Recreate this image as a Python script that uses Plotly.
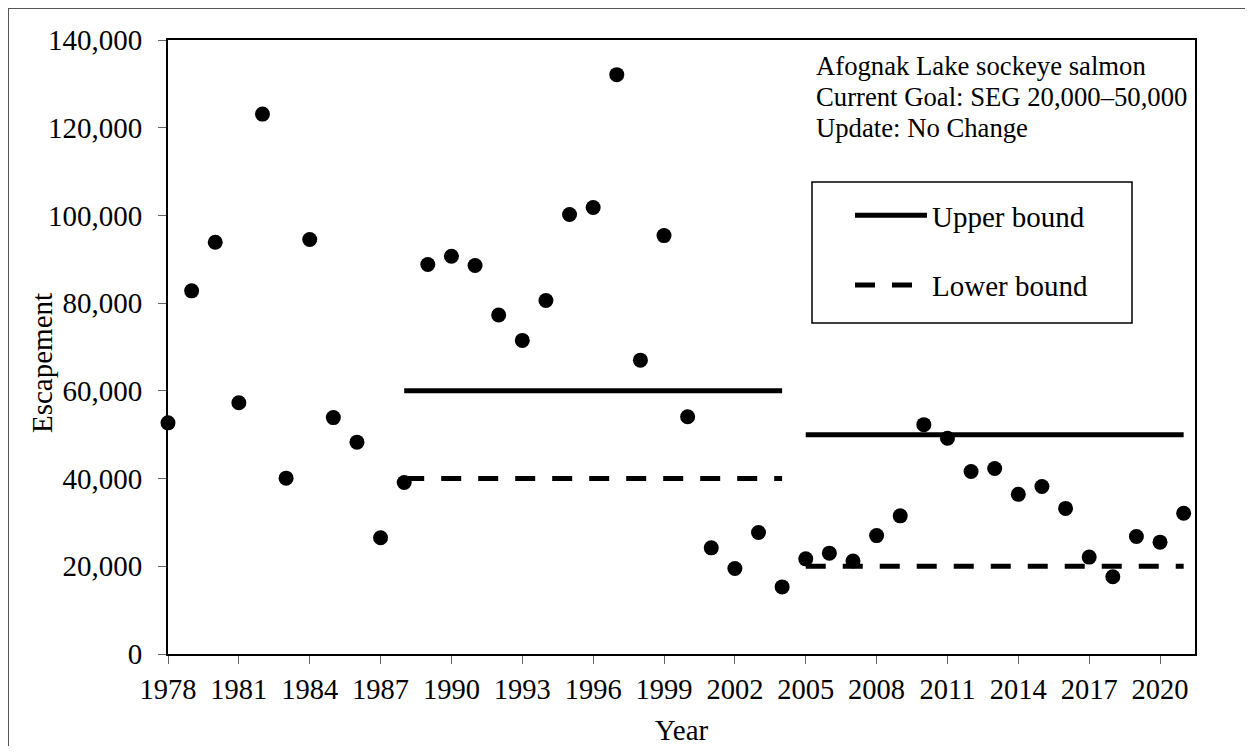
import plotly.graph_objects as go

years = list(range(1978, 2022))
escapement = [
    52700, 82800, 93900, 57300, 123100, 40100, 94500, 53900, 48300, 26500,
    39100, 88800, 90700, 88600, 77300, 71500, 80600, 100200, 101800, 132100,
    67000, 95400, 54100, 24200, 19500, 27700, 15300, 21700, 23000, 21200,
    27000, 31500, 52300, 49200, 41600, 42300, 36400, 38200, 33200, 22100,
    17600, 26800, 25500, 32100,
]
upper_x = [1988, 2004, None, 2005, 2021]
upper_y = [60000, 60000, None, 50000, 50000]
lower_x = [1988, 2004, None, 2005, 2021]
lower_y = [40000, 40000, None, 20000, 20000]
info_lines = [
    "Afognak Lake sockeye salmon",
    "Current Goal: SEG 20,000\u201350,000",
    "Update: No Change",
]

FONT = "Liberation Serif, Times New Roman, serif"

# page offset (browser body margin)
OFF = 8
W, H = 1237, 738
# plot area in page pixels
PL, PR, PT, PB = 168, 1195, 40, 654
L = PL - OFF
R = (W + OFF) - PR
T = PT - OFF
B = (H + OFF) - PB
pw, ph = PR - PL, PB - PT


def px_x(p):
    return (p - PL) / pw


def px_y(p):
    return (PB - p) / ph


fig = go.Figure()
fig.add_trace(go.Scatter(
    x=years, y=escapement, mode="markers",
    marker=dict(size=15, color="black"),
    showlegend=False, cliponaxis=False,
))
fig.add_trace(go.Scatter(
    x=upper_x, y=upper_y, mode="lines", name="Upper bound",
    line=dict(color="black", width=5), connectgaps=False,
    legendgroup="u",
))
fig.add_trace(go.Scatter(
    x=lower_x, y=lower_y, mode="lines", name="Lower bound",
    line=dict(color="black", width=5, dash="20px,17px"), connectgaps=False,
    legendgroup="l",
))

annotations = []
for line, yc in zip(info_lines, [66, 97, 128]):
    annotations.append(dict(
        text=line, xref="paper", yref="paper", x=px_x(814), y=px_y(yc),
        xanchor="left", yanchor="middle", showarrow=False,
        font=dict(family=FONT, size=26.7, color="black"), align="left",
    ))
annotations.append(dict(
    text="Escapement", xref="paper", yref="paper", x=px_x(42), y=px_y(363),
    xanchor="center", yanchor="middle", textangle=-90, showarrow=False,
    font=dict(family=FONT, size=29, color="black"),
))

fig.update_layout(
    width=W, height=H,
    margin=dict(l=L, r=R, t=T, b=B),
    paper_bgcolor="white", plot_bgcolor="white",
    font=dict(family=FONT, size=28.5, color="black"),
    xaxis=dict(
        range=[1978, 2021.48], tick0=1978, dtick=3, tickmode="linear",
        showgrid=False, zeroline=False, automargin=False,
        showline=True, linecolor="black", linewidth=2, mirror=True,
        ticks="outside", ticklen=8, tickcolor="#666", tickwidth=1,
        ticklabelstandoff=1,
        tickfont=dict(family=FONT, size=28.5, color="black"),
        title=dict(text="Year", font=dict(family=FONT, size=29), standoff=22),
    ),
    yaxis=dict(
        range=[0, 140000], tick0=0, dtick=20000, tickmode="linear",
        tickformat=",", showgrid=False, zeroline=False, automargin=False,
        showline=True, linecolor="black", linewidth=2, mirror=True,
        ticks="outside", ticklen=8, tickcolor="#666", tickwidth=1,
        ticklabelstandoff=10,
        tickfont=dict(family=FONT, size=29, color="black"),
    ),
    legend=dict(
        x=px_x(850), y=px_y(190), xanchor="left", yanchor="top",
        bgcolor="rgba(0,0,0,0)", borderwidth=0,
        font=dict(family=FONT, size=29, color="black"),
        traceorder="grouped", tracegroupgap=29, itemwidth=72,
    ),
    annotations=annotations,
    shapes=[
        dict(
            type="rect", xref="paper", yref="paper",
            x0=px_x(OFF), x1=px_x(1300), y0=px_y(800), y1=px_y(OFF),
            line=dict(color="#555", width=2), fillcolor="rgba(0,0,0,0)",
            layer="below",
        ),
        dict(
            type="rect", xref="paper", yref="paper",
            x0=px_x(812), x1=px_x(1132), y0=px_y(323), y1=px_y(182),
            line=dict(color="black", width=1.5), fillcolor="white",
            layer="below",
        ),
    ],
)

fig.write_html("out.html")
